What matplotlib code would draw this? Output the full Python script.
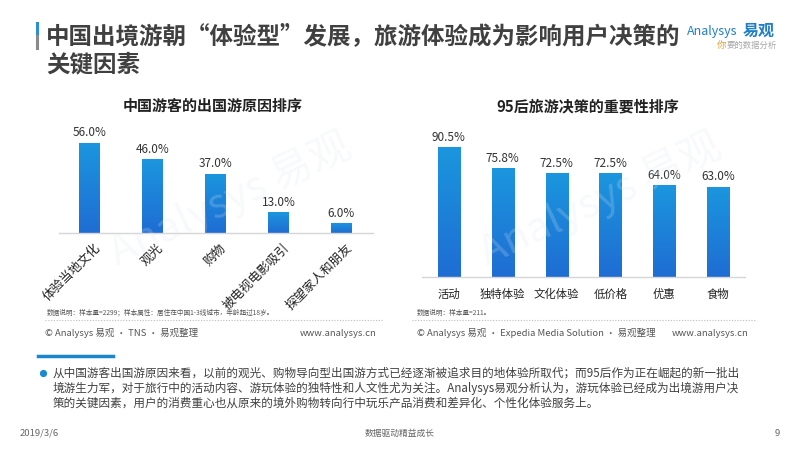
import numpy as np
import matplotlib
matplotlib.use("Agg")
import matplotlib.pyplot as plt
from matplotlib.colors import LinearSegmentedColormap

plt.rcParams["font.family"] = ["Noto Sans CJK SC", "DejaVu Sans"]

# data
reasons = ["体验当地文化", "观光", "购物", "被电视电影吸引", "探望家人和朋友"]
reason_pct = [56.0, 46.0, 37.0, 13.0, 6.0]

factors = ["活动", "独特体验", "文化体验", "低价格", "优惠", "食物"]
factor_pct = [90.5, 75.8, 72.5, 72.5, 64.0, 63.0]

title_lines = ["中国出境游朝“体验型”发展，旅游体验成为影响用户决策的", "关键因素"]
left_title = "中国游客的出国游原因排序"
right_title = "95后旅游决策的重要性排序"
left_note = "数据说明：样本量=2299；样本属性：居住在中国1-3线城市，年龄超过18岁。"
right_note = "数据说明：样本量=211。"
left_source = "© Analysys 易观 · TNS · 易观整理"
right_source = "© Analysys 易观 · Expedia Media Solution · 易观整理"
body_lines = [
    "从中国游客出国游原因来看，以前的观光、购物导向型出国游方式已经逐渐被追求目的地体验所取代；而95后作为正在崛起的新一批出",
    "境游生力军，对于旅行中的活动内容、游玩体验的独特性和人文性尤为关注。Analysys易观分析认为，游玩体验已经成为出境游用户决",
    "策的关键因素，用户的消费重心也从原来的境外购物转向行中玩乐产品消费和差异化、个性化体验服务上。",
]

W, H = 800, 450
fig = plt.figure(figsize=(8, 4.5), dpi=100)
fig.patch.set_facecolor("white")

bar_cmap = LinearSegmentedColormap.from_list("bar", ["#1f6dd3", "#1b96de"])
grad = np.linspace(0, 1, 200).reshape(-1, 1)


def px(x, y):
    return x / W, 1 - y / H


def ftext(x, y, s, **kw):
    return fig.text(*px(x, y), s, **kw)


def make_axes(x0, x1, y_base, y_top):
    ax = fig.add_axes([x0 / W, 1 - y_base / H, (x1 - x0) / W, (y_base - y_top) / H])
    ax.set_facecolor("none")
    for s in ["top", "right", "left"]:
        ax.spines[s].set_visible(False)
    ax.spines["bottom"].set_color("#d6d6d6")
    ax.spines["bottom"].set_linewidth(1.0)
    ax.set_yticks([])
    ax.set_xticks([])
    return ax


def gradient_bars(ax, values, width):
    bars = ax.bar(range(len(values)), values, width=width, color="none", zorder=2)
    for b in bars:
        x0, w, h = b.get_x(), b.get_width(), b.get_height()
        im = ax.imshow(grad, cmap=bar_cmap, origin="lower", aspect="auto",
                       extent=[x0, x0 + w, 0, h], zorder=2)
        im.set_clip_path(b)
    return bars


# header
fig.add_artist(plt.Line2D([37 / W, 37 / W], [1 - 23 / H, 1 - 36 / H], color="#2a8fd3", lw=2.2))
fig.add_artist(plt.Line2D([37 / W, 37 / W], [1 - 36 / H, 1 - 48 / H], color="#8a8a8a", lw=2.2))
ftext(46, 36, title_lines[0], fontsize=16.9, fontweight="bold", color="#404040", va="center")
ftext(46, 64, title_lines[1], fontsize=16.9, fontweight="bold", color="#404040", va="center")

# logo
ftext(687, 31, "Analysys", fontsize=9, color="#1f7fc8", style="italic", va="center")
ftext(743, 31, "易观", fontsize=11.5, color="#1f7fc8", fontweight="bold", va="center")
ftext(717, 45, "你", fontsize=7, color="#e0a030", style="italic", va="center")
ftext(727, 45, "要的数据分析", fontsize=6, color="#a8a8a8", style="italic", va="center")

# watermarks
for wx, wy in [(230, 200), (600, 200)]:
    ftext(wx, wy, "Analysys 易观", fontsize=30, color="#dbe6f0", alpha=0.22,
          rotation=25, ha="center", va="center", zorder=0)

# subtitles
ftext(213, 106, left_title, fontsize=10.8, fontweight="bold", color="#222222", ha="center", va="center")
ftext(588, 106, right_title, fontsize=10.8, fontweight="bold", color="#222222", ha="center", va="center")

# left chart
axl = make_axes(59, 373, 233, 133)
gradient_bars(axl, reason_pct, 0.33)
axl.set_xlim(-0.48, 4.5)
axl.set_ylim(0, 62.2)
for i, v in enumerate(reason_pct):
    axl.annotate(f"{v:.1f}%", (i, v), xytext=(0, 2.5), textcoords="offset points",
                 ha="center", va="bottom", fontsize=8.5, color="#333333")
    axl.annotate(reasons[i], (i, 0), xytext=(3, -6), textcoords="offset points",
                 ha="right", va="top", rotation=45, rotation_mode="anchor",
                 fontsize=9, color="#222222")

# right chart
axr = make_axes(422, 745, 277, 137)
gradient_bars(axr, factor_pct, 0.41)
axr.set_xlim(-0.5, 5.5)
axr.set_ylim(0, 97.7)
for i, v in enumerate(factor_pct):
    axr.annotate(f"{v:.1f}%", (i, v), xytext=(0, 2.5), textcoords="offset points",
                 ha="center", va="bottom", fontsize=8.5, color="#333333")
    axr.annotate(factors[i], (i, 0), xytext=(0, -12.5), textcoords="offset points",
                 ha="center", va="center", fontsize=8.2, color="#222222")

# notes and sources
ftext(47, 313, left_note, fontsize=4.8, color="#555555", va="center")
ftext(417, 313, right_note, fontsize=4.8, color="#555555", va="center")
fig.add_artist(plt.Line2D([45 / W, 383 / W], [1 - 320 / H] * 2, color="#bbbbbb", lw=0.8, ls=(0, (1, 1.5))))
fig.add_artist(plt.Line2D([412 / W, 755 / W], [1 - 320 / H] * 2, color="#bbbbbb", lw=0.8, ls=(0, (1, 1.5))))
ftext(45, 333, left_source, fontsize=6.8, color="#555555", va="center")
ftext(377, 333, "www.analysys.cn", fontsize=6.8, color="#555555", va="center", ha="right")
ftext(417, 333, right_source, fontsize=6.8, color="#555555", va="center")
ftext(748, 333, "www.analysys.cn", fontsize=6.8, color="#555555", va="center", ha="right")

# body text
fig.add_artist(plt.Line2D([38 / W, 113 / W], [1 - 356 / H] * 2, color="#1a86cc", lw=2.5))
fig.add_artist(plt.Line2D([42.7 / W], [1 - 373 / H], marker="o", ms=4.2, color="#1a8ad4", lw=0))
for k, line in enumerate(body_lines):
    ftext(53, 373 + 15 * k, line, fontsize=8.35, color="#404040", va="center")

# footer
ftext(20, 433, "2019/3/6", fontsize=6.8, color="#666666", va="center")
ftext(400, 433, "数据驱动精益成长", fontsize=6.3, color="#666666", va="center", ha="center")
ftext(780, 433, "9", fontsize=6.8, color="#666666", va="center", ha="right")

fig.savefig("out.png", dpi=100)
